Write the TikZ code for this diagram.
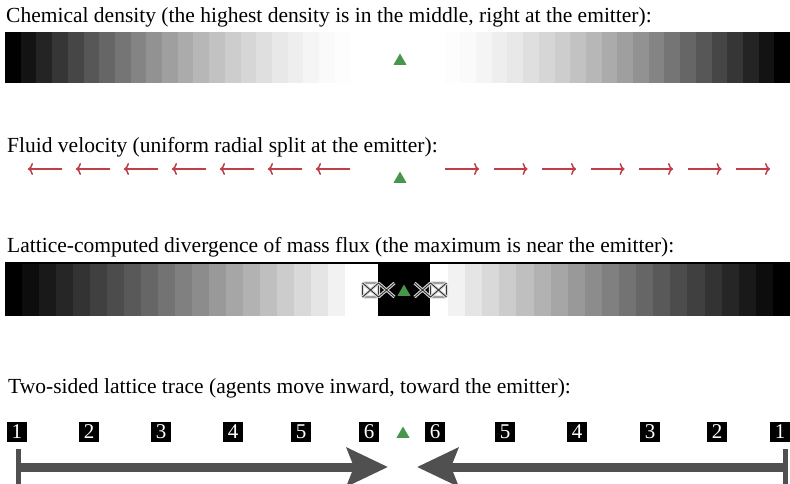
\documentclass[tikz,border=0pt]{standalone}
\usepackage{fontspec}
\setmainfont{Liberation Serif}
\usetikzlibrary{arrows.meta,shapes.geometric}
\definecolor{velred}{RGB}{192,62,72}
\definecolor{emitgreen}{RGB}{72,150,78}
\definecolor{tracegray}{RGB}{80,80,80}
\tikzset{
  caption/.style={anchor=base west,inner sep=0pt,font=\fontsize{21.5}{25}\selectfont},
  emitter/.style={regular polygon,regular polygon sides=3,fill=emitgreen,inner sep=0pt,minimum size=15pt},
  velarrow/.style={draw=velred,line width=1.5pt,-{To[length=5pt,width=12pt]}},
  tracebox/.style={fill=black,text=white,inner sep=0pt,minimum width=20pt,minimum height=20pt,font=\fontsize{21}{21}\selectfont},
  trace/.style={line width=9pt,draw=tracegray,{Bar[width=36pt,line width=5pt]}-{Stealth[length=41pt,width=38pt,inset=7pt]}},
  fluxmark/.style={draw=black!15,double=black!80,line width=1.1pt,double distance=0.9pt}
}
\begin{document}
\begin{tikzpicture}[x=1pt,y=-1pt]
\useasboundingbox (0,0) rectangle (790,483);
% chemical density
\node[caption] (cap-dens) at (6,22) {Chemical density (the highest density is in the middle, right at the emitter):};
\foreach \i in {0,...,49}{
  \pgfmathsetmacro\d{max(0,abs(5+15.7*(\i+0.5)-397.5)-40)/345}
  \pgfmathsetmacro\s{min(100,100*\d^1.6)}
  \fill[black!\s] (5+15.7*\i,32) rectangle ++(15.8,51);
}
\node[emitter] (emit-dens) at (400,61) {};
% fluid velocity
\node[caption] (cap-vel) at (7,152) {Fluid velocity (uniform radial split at the emitter):};
\foreach \k in {1,...,7}{
  \coordinate (vl-from\k) at (398-48*\k,169);
  \coordinate (vl-to\k) at (364-48*\k,169);
  \coordinate (vr-from\k) at (396.5+48.5*\k,169);
  \coordinate (vr-to\k) at (430.5+48.5*\k,169);
  \draw[velarrow] (vl-from\k) -- (vl-to\k);
  \draw[velarrow] (vr-from\k) -- (vr-to\k);
}
\node[emitter] (emit-vel) at (400,179) {};
% divergence
\node[caption] (cap-div) at (7,252) {Lattice-computed divergence of mass flux (the maximum is near the emitter):};
\foreach \i in {0,...,19}{
  \pgfmathsetmacro\s{100*(20-\i)/20}
  \fill[black!\s] (5+17*\i,262) rectangle ++(17.1,54);
  \pgfmathsetmacro\t{100*(\i+1)/20}
  \fill[black!\t] (448+17.1*\i,262) rectangle ++(17.2,54);
}
\fill (378,262) rectangle (430,316);
\draw[line width=2pt] (5,263) -- (790,263);
\foreach \sx in {-1,1}{
  \begin{scope}[shift={(404.5,290)},xscale=\sx]
    \draw[fluxmark,rounded corners=1.5pt] (-42,-7) rectangle (-26,7);
    \draw[fluxmark] (-42,-7) -- (-26,7) (-42,7) -- (-26,-7) (-26,-7) -- (-10,7) (-26,7) -- (-10,-7);
  \end{scope}
}
\node[emitter] (emit-div) at (404,292) {};
% lattice trace
\node[caption] (cap-trace) at (8,393) {Two-sided lattice trace (agents move inward, toward the emitter):};
\foreach \n/\x in {1/17,2/89,3/161,4/233,5/301,6/369}
  \node[tracebox] (tl\n) at (\x,432) {\n};
\foreach \n/\x in {6/435,5/505,4/577,3/650,2/717,1/780}
  \node[tracebox] (tr\n) at (\x,432) {\n};
\node[emitter] (emit-trace) at (403,434) {};
\coordinate (l-start) at (16,467);
\coordinate (l-tip) at (388,467);
\coordinate (r-start) at (788,467);
\coordinate (r-tip) at (417,467);
\draw[trace] (l-start) -- (l-tip);
\draw[trace] (r-start) -- (r-tip);
\end{tikzpicture}
\end{document}
